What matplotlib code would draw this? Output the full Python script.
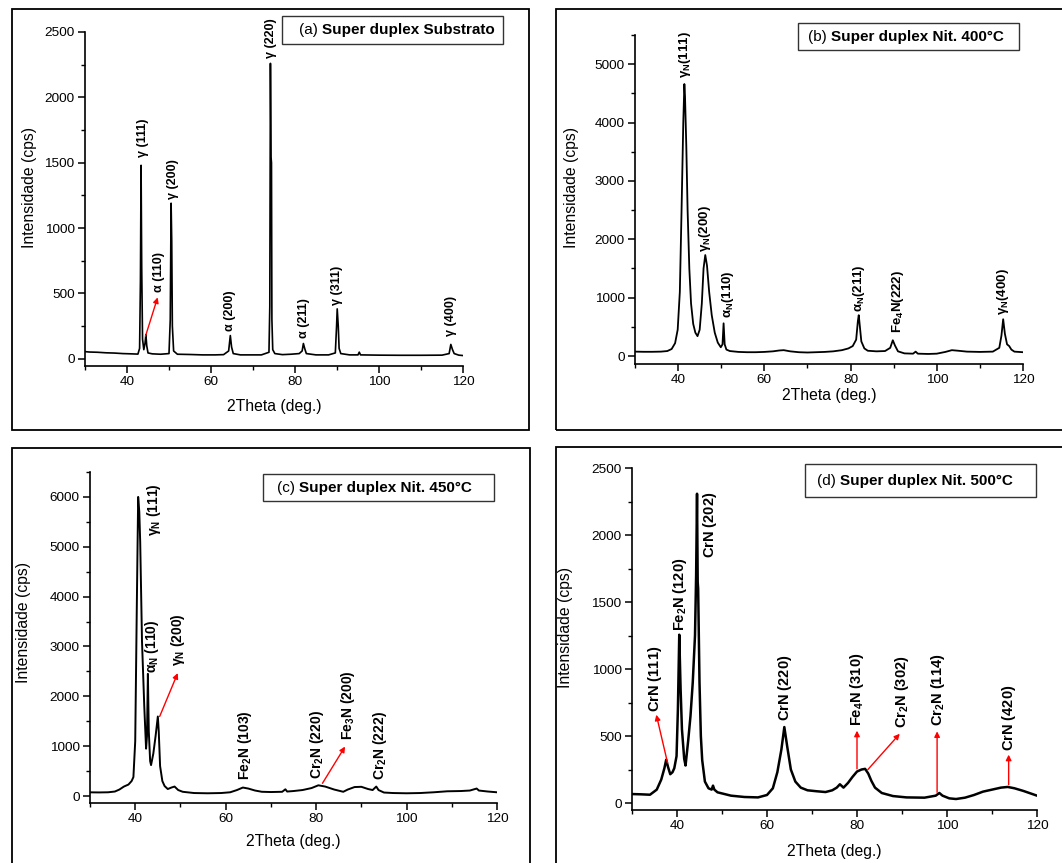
import matplotlib
matplotlib.use("Agg")
import matplotlib.pyplot as plt
from matplotlib.patches import Rectangle
from matplotlib.text import Annotation
from matplotlib.ticker import MultipleLocator

plt.rcParams['font.family'] = ['Liberation Sans', 'DejaVu Sans']
plt.rcParams['mathtext.fontset'] = 'custom'
plt.rcParams['mathtext.rm'] = 'Liberation Sans'
plt.rcParams['mathtext.bf'] = 'Liberation Sans:bold'
plt.rcParams['mathtext.it'] = 'Liberation Sans:italic'
plt.rcParams['mathtext.sf'] = 'Liberation Sans'

# ---------------- data ----------------
a_x = [30, 31, 33, 35, 37, 39, 41, 42.6, 43.0, 43.2, 43.35, 43.5, 43.7, 44.0, 44.3, 44.5, 44.7, 45.0,
       46, 48, 50.0, 50.3, 50.5, 50.65, 50.8, 51.1, 52, 55, 58, 61, 63, 64.2, 64.6, 64.9, 65.3, 67, 70,
       72, 73.8, 74.0, 74.15, 74.3, 74.4, 74.5, 74.7, 75.2, 77, 79, 81, 81.7, 82.0, 82.3, 82.7, 85, 88,
       89.6, 89.9, 90.05, 90.3, 90.5, 90.9, 93, 95.0, 95.3, 95.6, 100, 105, 110, 115, 116.7, 117.1,
       117.5, 117.9, 119, 120]
a_y = [55, 52, 50, 46, 44, 40, 38, 36, 80, 600, 1480, 700, 150, 70, 120, 185, 100, 45,
       38, 35, 40, 300, 1190, 900, 250, 60, 35, 33, 30, 30, 32, 60, 178, 90, 40, 30, 30,
       30, 50, 400, 2260, 1540, 1500, 300, 70, 40, 32, 35, 40, 60, 117, 80, 40, 30, 30,
       45, 250, 382, 250, 80, 40, 30, 30, 51, 30, 28, 27, 27, 28, 40, 110,
       70, 40, 28, 25]

b_x = [30, 32, 34, 36, 37.5, 38.5, 39.3, 39.9, 40.4, 40.8, 41.2, 41.45, 41.6, 41.9, 42.2, 42.6, 43.0,
       43.5, 44.0, 44.5, 45.0, 45.5, 45.9, 46.3, 46.7, 47.2, 47.8, 48.5, 49.2, 49.9, 50.3, 50.55, 50.8,
       51.2, 52, 54, 56, 58, 60, 62, 63.5, 64.5, 66, 68, 70, 72, 74, 76, 78, 79.5, 80.5, 81.3, 81.7,
       81.9, 82.1, 82.5, 83.2, 84, 86, 88, 89.2, 89.8, 90.3, 91, 92.5, 94.5, 95.1, 95.6, 98, 100, 102,
       103.5, 105, 107, 110, 113, 114.5, 115.0, 115.4, 115.8, 116.3, 116.8, 117.3, 118, 120]
b_y = [75, 72, 72, 75, 85, 120, 220, 450, 1100, 2500, 4000, 4660, 4450, 3600, 2500, 1500, 900,
       550, 400, 340, 450, 900, 1500, 1730, 1550, 1100, 700, 400, 230, 150, 200, 560, 200,
       110, 85, 70, 65, 65, 70, 80, 95, 100, 80, 65, 60, 65, 70, 80, 100, 130, 170, 280, 600,
       700, 550, 250, 130, 90, 80, 85, 140, 270, 180, 80, 45, 40, 75, 40, 35, 40, 70,
       100, 90, 75, 70, 75, 140, 350, 630, 380, 200, 170, 110, 75, 65]

c_x = [30, 32, 34, 35.5, 36.5, 37.5, 38.5, 39.2, 39.6, 40.0, 40.35, 40.65, 40.9, 41.1, 41.5, 42.0,
       42.4, 42.6, 42.8, 43.0, 43.3, 43.5, 44.0, 44.5, 45.0, 45.2, 45.5, 46.0, 46.5, 47.2, 48.0, 48.7,
       49.5, 50.5, 53, 56, 59, 61, 62.5, 63.8, 65, 66.5, 68, 70, 72.5, 73.2, 73.6, 75, 77, 79, 80.5,
       82, 84, 86, 87, 88.5, 90, 91.5, 92.5, 93.3, 93.8, 95, 97, 100, 103, 106, 109, 112, 114, 115.5,
       116, 118, 120]
c_y = [74, 72, 75, 90, 130, 190, 230, 300, 380, 1100, 3800, 6000, 5700, 5100, 3100, 1800,
       950, 1200, 2450, 1300, 700, 620, 850, 1200, 1595, 1300, 600, 300, 200, 140, 170, 190,
       120, 85, 60, 55, 60, 75, 120, 170, 150, 110, 85, 80, 85, 135, 90, 100, 120, 160, 215,
       190, 130, 85, 130, 180, 185, 140, 120, 190, 120, 70, 60, 55, 60, 75, 95, 100, 110, 150,
       110, 90, 75]

d_x = [30, 32, 34, 35.5, 36.5, 37.2, 37.6, 38.0, 38.5, 39.0, 39.4, 39.9, 40.2, 40.5, 40.8, 41.1,
       41.6, 41.9, 42.5, 43.0, 43.5, 44.0, 44.25, 44.45, 44.6, 44.7, 45.0, 45.3, 45.6, 46.2, 47, 47.7,
       48, 48.3, 49, 52, 55, 58, 60, 61.3, 62.3, 63.2, 63.85, 64.5, 65.3, 66.3, 67.5, 69, 71, 73,
       74.5, 75.5, 76.2, 77, 78, 79, 80, 81, 81.8, 82.5, 83.2, 84, 85.5, 88, 91, 95, 97.5, 98.3, 99,
       100.5, 102, 104, 106, 108, 110, 112, 113.5, 115, 117, 120]
d_y = [67, 65, 62, 100, 175, 260, 323, 270, 215, 230, 260, 350, 700, 1256, 850, 550,
       330, 280, 470, 650, 900, 1250, 1700, 2308, 1650, 1600, 900, 500, 320, 160, 110, 100,
       130, 100, 80, 55, 45, 42, 60, 110, 230, 400, 567, 420, 250, 160, 115, 95, 88, 82,
       95, 115, 140, 115, 150, 195, 235, 250, 255, 220, 165, 115, 75, 52, 42, 40, 55, 75, 55,
       35, 30, 40, 60, 85, 100, 115, 120, 110, 90, 55]

x_label = '2Theta (deg.)'
y_label = 'Intensidade (cps)'
title_tags = ['(a) ', '(b) ', '(c) ', '(d) ']
title_names = ['Super duplex Substrato', 'Super duplex Nit. 400°C',
               'Super duplex Nit. 450°C', 'Super duplex Nit. 500°C']

# peak labels: (text, x, bottom y)
a_labels = [('γ (111)', 43.75, 1544), ('α (110)', 47.6, 510), ('γ (200)', 50.9, 1223),
            ('α (200)', 64.5, 211), ('γ (220)', 74.4, 2301), ('α (211)', 82.2, 160),
            ('γ (311)', 90.0, 415), ('γ (400)', 117.2, 173)]
b_labels = [(r'$\mathbf{γ_{N}(111)}$', 41.55, 4755), (r'$\mathbf{γ_{N}(200)}$', 46.2, 1787),
            (r'$\mathbf{α_{N}(110)}$', 51.6, 645), (r'$\mathbf{α_{N}(211)}$', 82.0, 759),
            (r'$\mathbf{Fe_{4}N(222)}$', 91.0, 388), (r'$\mathbf{γ_{N}(400)}$', 115.4, 702)]
c_labels = [(r'$\mathbf{γ_{N}\ (111)}$', 44.2, 5214), (r'$\mathbf{α_{N}\ (110)}$', 43.7, 2466),
            (r'$\mathbf{γ_{N}\ (200)}$', 49.4, 2600), (r'$\mathbf{Fe_{2}N\ (103)}$', 64.3, 322),
            (r'$\mathbf{Cr_{2}N\ (220)}$', 80.1, 335), (r'$\mathbf{Fe_{3}N\ (200)}$', 87.1, 1126),
            (r'$\mathbf{Cr_{2}N\ (222)}$', 94.1, 322)]
d_labels = [(r'$\mathbf{CrN\ (111)}$', 35.2, 680), (r'$\mathbf{Fe_{2}N\ (120)}$', 40.6, 1287),
            (r'$\mathbf{CrN\ (202)}$', 47.4, 1828), (r'$\mathbf{CrN\ (220)}$', 64.1, 609),
            (r'$\mathbf{Fe_{4}N\ (310)}$', 80.0, 572), (r'$\mathbf{Cr_{2}N\ (302)}$', 90.0, 560),
            (r'$\mathbf{Cr_{2}N\ (114)}$', 98.1, 572), (r'$\mathbf{CrN\ (420)}$', 113.7, 386)]

# red arrows: (x_start, y_start, x_end, y_end)
a_arrows = [(44.4, 173, 47.3, 470)]
b_arrows = []
c_arrows = [(45.4, 1595, 49.4, 2466), (81.4, 255, 86.4, 992)]
d_arrows = [(37.9, 300, 35.4, 659), (80.0, 255, 80.0, 540), (82.4, 249, 89.5, 517),
            (97.8, 80, 97.8, 535), (113.7, 137, 113.7, 361)]

# ---------------- layout ----------------
W, H = 1062, 863
fig = plt.figure(figsize=(W / 100, H / 100), dpi=100)
fig.patch.set_facecolor('white')


def frac(l, t, r, b):
    return [l / W, 1 - b / H, (r - l) / W, (b - t) / H]


panels = [
    dict(x=a_x, y=a_y, rect=(85, 32, 463, 366), ylim=(-55, 2500), ymaj=500, ymin=250,
         frame=(12, 9, 529, 430), box=(282, 16, 503, 44), tx=299, labels=a_labels,
         arrows=a_arrows, fs=9.0, ylc=(28, 188), xlc=(274, 408), lw=1.2),
    dict(x=b_x, y=b_y, rect=(635, 35, 1023, 364), ylim=(-137, 5500), ymaj=1000, ymin=500,
         frame=(556, 9, 1075, 430), box=(798, 23, 1019, 50), tx=808, labels=b_labels,
         arrows=b_arrows, fs=9.5, ylc=(570, 187), xlc=(829, 397), lw=1.3),
    dict(x=c_x, y=c_y, rect=(90, 472, 497, 803), ylim=(-140, 6500), ymaj=1000, ymin=500,
         frame=(12, 448, 530, 875), box=(263, 474, 494, 501), tx=277, labels=c_labels,
         arrows=c_arrows, fs=10.0, ylc=(22, 622), xlc=(293, 843), lw=1.4),
    dict(x=d_x, y=d_y, rect=(632, 468, 1037, 810), ylim=(-52, 2500), ymaj=500, ymin=250,
         frame=(556, 447, 1075, 875), box=(805, 464, 1036, 497), tx=817, labels=d_labels,
         arrows=d_arrows, fs=10.5, ylc=(564, 627), xlc=(834, 853), lw=1.8),
]

for p, tag, name in zip(panels, title_tags, title_names):
    fl, ft, fr, fb = p['frame']
    fig.add_artist(Rectangle((fl / W, 1 - fb / H), (fr - fl) / W, (fb - ft) / H,
                             transform=fig.transFigure, fill=False, edgecolor='black', lw=1.3))
    bl, bt, br, bb = p['box']
    fig.add_artist(Rectangle((bl / W, 1 - bb / H), (br - bl) / W, (bb - bt) / H,
                             transform=fig.transFigure, facecolor='white', edgecolor='#333333',
                             lw=1.0))
    t1 = fig.text(p['tx'] / W, 1 - (bt + bb) / 2 / H, tag, ha='left', va='center', fontsize=11)
    t2 = Annotation(name, xy=(1, 0), xycoords=t1, ha='left', va='bottom', fontsize=11,
                    fontweight='bold')
    fig.add_artist(t2)

    l, t, r, b = p['rect']
    ax = fig.add_axes(frac(l, t, r, b))
    ax.plot(p['x'], p['y'], color='black', lw=p['lw'])
    ax.set_xlim(30, 120)
    ax.set_ylim(*p['ylim'])
    for s in ('top', 'right'):
        ax.spines[s].set_visible(False)
    for s in ('left', 'bottom'):
        ax.spines[s].set_linewidth(1.2)
    ax.xaxis.set_major_locator(MultipleLocator(20))
    ax.xaxis.set_minor_locator(MultipleLocator(10))
    ax.yaxis.set_major_locator(MultipleLocator(p['ymaj']))
    ax.yaxis.set_minor_locator(MultipleLocator(p['ymin']))
    ax.tick_params(which='major', direction='out', length=5, width=1.1, labelsize=9.7, pad=2.5)
    ax.tick_params(which='minor', direction='out', length=3, width=1.0)
    ax.set_xticks([40, 60, 80, 100, 120])
    ax.set_ylabel(y_label, fontsize=11.3)
    ax.set_xlabel(x_label, fontsize=11.3)
    ycx, ycy = p['ylc']
    xcx, xcy = p['xlc']
    ax.yaxis.set_label_coords((ycx + 9 - l) / (r - l), (b - ycy) / (b - t))
    ax.xaxis.set_label_coords((xcx - l) / (r - l), (b - (xcy - 9)) / (b - t))

    for txt, xv, yv in p['labels']:
        ax.text(xv, yv, txt, rotation=90, ha='center', va='bottom', fontsize=p['fs'],
                fontweight='bold', clip_on=False)
    for x0, y0, x1, y1 in p['arrows']:
        ax.annotate('', xy=(x1, y1), xytext=(x0, y0),
                    arrowprops=dict(arrowstyle='-|>', color='red', lw=1.0,
                                    mutation_scale=8, shrinkA=0, shrinkB=0))

fig.savefig('out.png', dpi=100)
